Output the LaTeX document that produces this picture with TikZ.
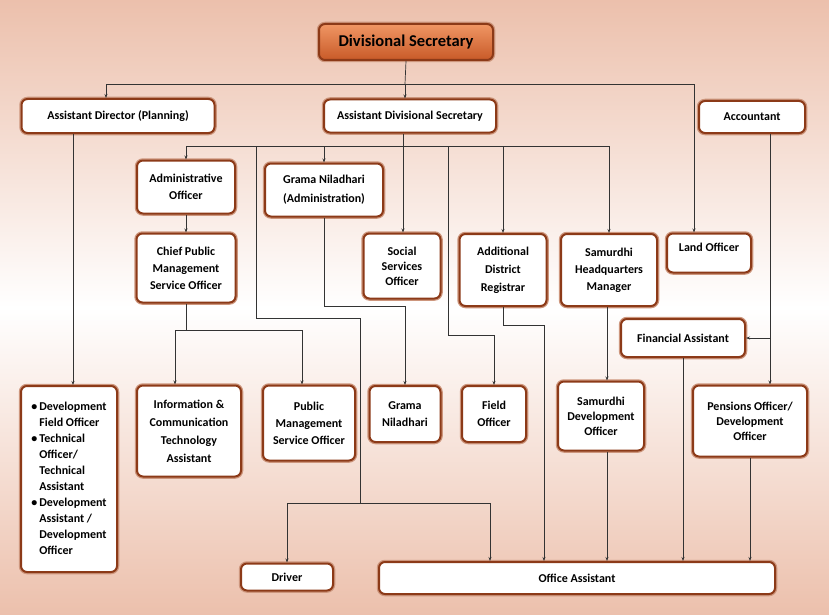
\documentclass[tikz,border=0pt]{standalone}
\usepackage{fontspec}
\setmainfont{Carlito}
\usetikzlibrary{arrows.meta,calc}
\definecolor{bgsalmon}{RGB}{236,192,172}
\definecolor{boxbrown}{RGB}{140,58,24}
\definecolor{boxlight}{RGB}{205,150,125}
\definecolor{dstop}{RGB}{240,150,100}
\definecolor{dsbot}{RGB}{200,90,40}
\tikzset{
  box/.style={draw=boxbrown, line width=2pt, rounded corners=6pt, fill=white,
    preaction={draw=boxlight, line width=4.5pt}, align=center,
    font=\fontsize{12}{17}\selectfont\bfseries, inner sep=2pt},
  link/.style={draw=black!80, line width=0.7pt},
  arr/.style={link, -{Stealth[length=4pt,width=3pt]}}
}
\begin{document}
\begin{tikzpicture}[x=1pt,y=-1pt]
\useasboundingbox (0,0) rectangle (829,615);
\shade[top color=bgsalmon, bottom color=bgsalmon, middle color=white] (0,0) rectangle (829,615);
% top level
\node[box, minimum width=174pt, minimum height=36pt, top color=dstop, bottom color=dsbot,
  font=\fontsize{16.5}{18}\selectfont\bfseries] (ds) at (406,42) {Divisional Secretary};
\node[box, minimum width=193pt, minimum height=34pt] (adp) at (118,116) {Assistant Director (Planning)};
\node[box, minimum width=172pt, minimum height=33pt] (ads) at (410,116) {Assistant Divisional Secretary};
\node[box, minimum width=106pt, minimum height=32pt] (acct) at (752,117) {Accountant};
% middle level
\node[box, minimum width=98pt, minimum height=53pt] (ao) at (186,187) {Administrative\\Officer};
\node[box, minimum width=118pt, minimum height=53pt, font=\fontsize{12}{19}\selectfont\bfseries] (gna) at (324,190) {Grama Niladhari\\(Administration)};
\node[box, minimum width=99pt, minimum height=69pt] (cpmso) at (186,268) {Chief Public\\Management\\Service Officer};
\node[box, minimum width=77pt, minimum height=65pt, font=\fontsize{12}{15}\selectfont\bfseries] (sso) at (402,266) {Social\\Services\\Officer};
\node[box, minimum width=87pt, minimum height=72pt, font=\fontsize{12}{18}\selectfont\bfseries] (adr) at (503,270) {Additional\\District\\Registrar};
\node[box, minimum width=96pt, minimum height=72pt] (shm) at (609,270) {Samurdhi\\Headquarters\\Manager};
\node[box, minimum width=84pt, minimum height=39pt, text depth=12pt] (lo) at (709,253) {Land Officer};
\node[box, minimum width=124pt, minimum height=38pt] (fa) at (683,338) {Financial Assistant};
% lower level
\node[box, minimum width=96pt, minimum height=186pt, font=\fontsize{12}{16}\selectfont\bfseries] (dfo) at (69,479)
  {\begin{tabular}{@{}c@{\,}l@{}}\textbullet & Development\\ & Field Officer\\
   \textbullet & Technical\\ & Officer/\\ & Technical\\ & Assistant\\
   \textbullet & Development\\ & Assistant /\\ & Development\\ & Officer\end{tabular}};
\node[box, minimum width=104pt, minimum height=91pt, font=\fontsize{12}{18}\selectfont\bfseries] (ict) at (189,431) {Information \&\\Communication\\Technology\\Assistant};
\node[box, minimum width=92pt, minimum height=75pt] (pmso) at (309,423) {Public\\Management\\Service Officer};
\node[box, minimum width=71pt, minimum height=56pt] (gn) at (405,414) {Grama\\Niladhari};
\node[box, minimum width=64pt, minimum height=56pt] (fo) at (494,414) {Field\\Officer};
\node[box, minimum width=86pt, minimum height=69pt, font=\fontsize{12}{15}\selectfont\bfseries] (sdo) at (601,416) {Samurdhi\\Development\\Officer};
\node[box, minimum width=114pt, minimum height=71pt, font=\fontsize{12}{15}\selectfont\bfseries] (podo) at (750,421) {Pensions Officer/\\Development\\Officer};
\node[box, minimum width=92pt, minimum height=27pt] (driver) at (287,577) {Driver};
\node[box, minimum width=396pt, minimum height=32pt] (oa) at (577,578) {Office Assistant};
% connectors from Divisional Secretary
\coordinate (b1) at (405,84);
\draw[link] (ds.south) -- (b1);
\draw[arr] (b1) -| ([xshift=-12pt]adp.north);
\draw[arr] (b1) -- (b1 |- ads.north);
\draw[arr] (b1) -| ([xshift=-15pt]lo.north);
\draw[arr] ([xshift=-45pt]adp.south) -- ([xshift=4pt]dfo.north);
% connectors from Assistant Divisional Secretary
\coordinate (b2) at (403,146);
\draw[link] (b2 |- ads.south) -- (b2);
\draw[link] (b2 -| ao) -- (b2 -| shm);
\draw[arr] (b2 -| ao) -- (ao.north);
\draw[arr] (b2 -| gna) -- (gna.north);
\draw[arr] (b2) -- (b2 |- sso.north);
\draw[arr] (b2 -| adr) -- (adr.north);
\draw[arr] (b2 -| shm) -- (shm.north);
\coordinate (c1) at (256,146);
\coordinate (c2) at (360,503);
\draw[link] (c1) -- ++(0,172) -| (c2);
\draw[link] (c2) -- (c2 -| driver);
\draw[arr] (c2) -| (driver.north);
\draw[arr] (c2) -| ([xshift=-87pt]oa.north);
\coordinate (c3) at (448,146);
\draw[arr] (c3) |- ([yshift=50pt]fo.north) -- (fo.north);
\draw[arr] (adr.south) -- ++(0,18) -| ([xshift=-33pt]oa.north);
\draw[arr] (gna.south) -- ++(0,89) -| (gn.north);
\draw[arr] (ao.south) -- (cpmso.north);
\draw[link] (cpmso.south) -- ++(0,27) coordinate (c4);
\draw[arr] (c4) -| ([xshift=-14pt]ict.north);
\draw[arr] (c4) -| ([xshift=-7pt]pmso.north);
\draw[arr] ([xshift=-2pt]shm.south) -- ([xshift=6pt]sdo.north);
\draw[arr] ([xshift=6pt]sdo.south) -- ([xshift=6pt]sdo.south |- oa.north);
\draw[arr] (fa.south) -- (fa.south |- oa.north);
\draw[arr] (podo.south) -- (podo.south |- oa.north);
% connectors from Accountant
\draw[arr] ([xshift=18pt]acct.south) -- ([xshift=20pt]podo.north);
\coordinate (c5) at (770,338);
\draw[arr] (c5) -- (fa.east);
\end{tikzpicture}
\end{document}
